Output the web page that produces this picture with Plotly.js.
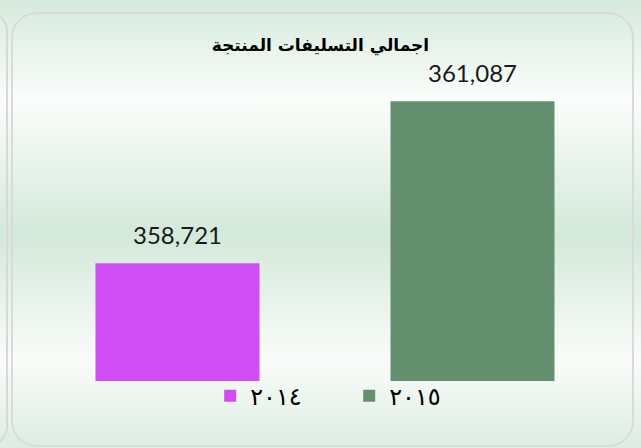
<!DOCTYPE html>
<html>
<head>
<meta charset="utf-8">
<script src="https://cdn.plot.ly/plotly-3.0.1.min.js"></script>
<style>
  html, body { margin: 0; padding: 0; }
  body {
    width: 641px; height: 448px; overflow: hidden; position: relative;
    background: linear-gradient(to bottom, #d5eadc 0px, #fbfdfb 100px, #d3e9da 235px, #fafcfa 360px, #dcede1 448px);
  }
  #leftpanel {
    position: absolute; left: -30px; top: 12px; width: 38px; height: 434px;
    border: 2px solid #d8d8d8; border-radius: 22px; box-sizing: border-box;
  }
  #box {
    position: absolute; left: 11px; top: 12px; width: 623px; height: 435px;
    border: 2px solid #dadada; border-radius: 26px; box-sizing: border-box;
  }
  #chart { position: absolute; left: 0; top: 0; width: 641px; height: 448px; }
</style>
</head>
<body>
<div id="leftpanel"></div>
<div id="box"></div>
<div id="chart"></div>
<script>
const categories = ['2014', '2015'];
const legendNames = ['٢٠١٤', '٢٠١٥'];
const values = [358721, 361087];
const valueLabels = ['358,721', '361,087'];
const colors = ['#d04cf3', '#64906f'];
const chartTitle = 'اجمالي التسليفات المنتجة';

const traces = categories.map((c, i) => ({
  type: 'bar',
  x: [c],
  y: [values[i]],
  name: legendNames[i],
  marker: { color: colors[i] },
  hoverinfo: 'skip'
}));

const annotations = categories.map((c, i) => ({
  x: i, y: values[i], xref: 'x', yref: 'y',
  text: valueLabels[i],
  showarrow: false, xanchor: 'center', yanchor: 'bottom', yshift: 12,
  font: { family: 'Lato, "Open Sans", sans-serif', size: 24, color: '#1a1a1a' }
}));

const layout = {
  width: 641, height: 448,
  margin: { l: 30, r: 21, t: 73, b: 67 },
  paper_bgcolor: 'rgba(0,0,0,0)',
  plot_bgcolor: 'rgba(0,0,0,0)',
  barmode: 'overlay',
  bargap: 0.444,
  title: {
    text: '<b>' + chartTitle + '</b>',
    x: 0.5, xref: 'container', xanchor: 'center',
    y: 1 - 45 / 448, yref: 'container', yanchor: 'middle',
    font: { family: '"DejaVu Sans", sans-serif', size: 17, color: '#000' }
  },
  xaxis: { type: 'category', categoryarray: categories, range: [-0.5, 1.5], visible: false, fixedrange: true },
  yaxis: { range: [357000, 361500], visible: false, fixedrange: true },
  showlegend: true,
  legend: {
    orientation: 'h', x: 0.541, xanchor: 'center', y: -0.049, yanchor: 'middle',
    font: { family: '"DejaVu Sans", sans-serif', size: 24, color: '#000' },
    entrywidth: 94, entrywidthmode: 'pixels',
    bgcolor: 'rgba(0,0,0,0)'
  },
  annotations: annotations
};

Plotly.newPlot('chart', traces, layout, { displayModeBar: false, staticPlot: true });
</script>
</body>
</html>
